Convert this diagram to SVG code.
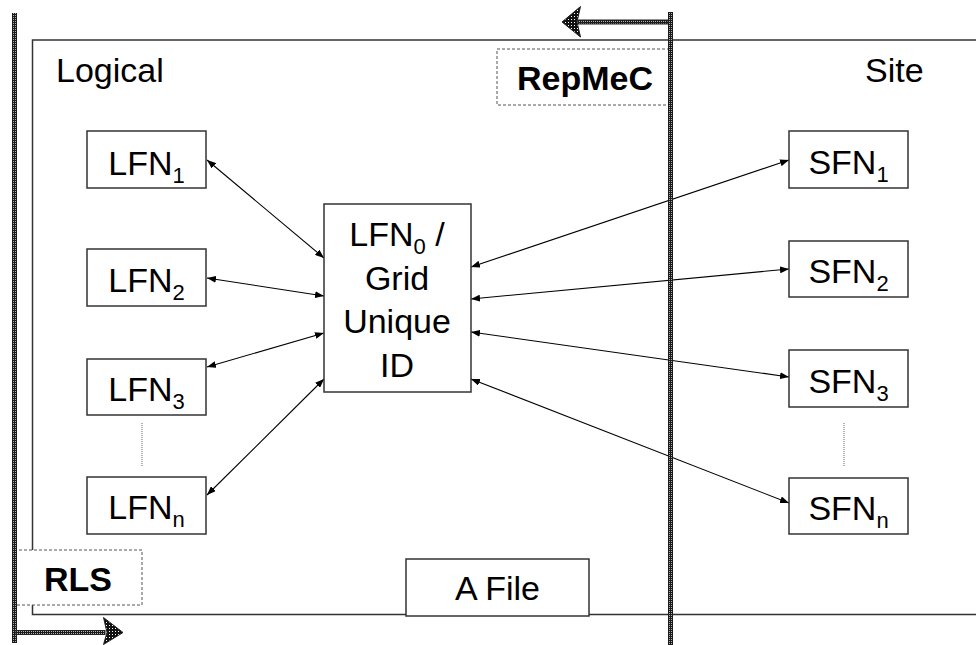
<svg xmlns="http://www.w3.org/2000/svg" width="976" height="645" viewBox="0 0 976 645">
<defs>
<pattern id="tex" width="2" height="2" patternUnits="userSpaceOnUse">
<rect width="2" height="2" fill="#1a1a1a"/>
<rect x="1" y="1" width="1" height="1" fill="#b0b0b0"/>
</pattern>
<pattern id="chk" width="3" height="3" patternUnits="userSpaceOnUse">
<rect width="3" height="3" fill="#111"/>
<rect x="1" y="1" width="1" height="1" fill="#fff"/>
</pattern>
<marker id="ah" viewBox="0 0 9 7" refX="9" refY="3.5" markerWidth="9" markerHeight="7" markerUnits="userSpaceOnUse" orient="auto-start-reverse">
<path d="M0,0 L9,3.5 L0,7 z" fill="#000"/>
</marker>
</defs>
<style>
text{font-family:"Liberation Sans",Arial,sans-serif;font-size:34px;fill:#000}
.b{font-weight:bold}
.sub{font-size:22px}
.box{fill:#fff;stroke:#333;stroke-width:1.5}
.dash{fill:#fff;stroke:#555;stroke-width:1;stroke-dasharray:3 2}
.conn{stroke:#000;stroke-width:1.1;fill:none;marker-start:url(#ah);marker-end:url(#ah)}
.dot{stroke:#999;stroke-width:1.5;stroke-dasharray:1 1}
.bar{fill:url(#tex)}
.shaft{fill:url(#tex);stroke:#222;stroke-width:1}
.head{fill:url(#chk);stroke:#222;stroke-width:1}
</style>
<rect width="976" height="645" fill="#fff"/>
<path id="frame" d="M976,40 H32.5 V614.5 H976" fill="none" stroke="#333" stroke-width="1.5"/>
<text x="56" y="82">Logical</text>
<text x="865" y="82">Site</text>
<g id="connectors">
<line class="conn" x1="207" y1="160" x2="324" y2="258"/>
<line class="conn" x1="207" y1="278" x2="324" y2="296"/>
<line class="conn" x1="207" y1="367" x2="324" y2="333"/>
<line class="conn" x1="207" y1="495" x2="324" y2="379"/>
<line class="conn" x1="471" y1="267" x2="789" y2="160"/>
<line class="conn" x1="471" y1="299" x2="789" y2="269"/>
<line class="conn" x1="471" y1="332" x2="789" y2="377"/>
<line class="conn" x1="471" y1="379" x2="789" y2="503"/>
</g>
<g id="lfn1"><rect class="box" x="87" y="131" width="119" height="57"/><text x="146.5" y="175" text-anchor="middle">LFN<tspan class="sub" dy="8">1</tspan></text></g>
<g id="lfn2"><rect class="box" x="87" y="249" width="119" height="57"/><text x="146.5" y="292" text-anchor="middle">LFN<tspan class="sub" dy="8">2</tspan></text></g>
<g id="lfn3"><rect class="box" x="87" y="359" width="119" height="56"/><text x="146.5" y="401" text-anchor="middle">LFN<tspan class="sub" dy="8">3</tspan></text></g>
<line class="dot" x1="142" y1="423" x2="142" y2="467"/>
<g id="lfnn"><rect class="box" x="87" y="477" width="119" height="57"/><text x="146.5" y="519" text-anchor="middle">LFN<tspan class="sub" dy="8">n</tspan></text></g>
<g id="center"><rect class="box" x="324" y="204" width="147" height="188"/>
<text x="397" y="246" text-anchor="middle">LFN<tspan class="sub" dy="8">0</tspan><tspan dy="-8"> /</tspan></text>
<text x="397" y="290" text-anchor="middle">Grid</text>
<text x="397" y="333" text-anchor="middle">Unique</text>
<text x="397" y="377" text-anchor="middle">ID</text></g>
<g id="sfn1"><rect class="box" x="789" y="131" width="119" height="57"/><text x="848.5" y="174" text-anchor="middle">SFN<tspan class="sub" dy="8">1</tspan></text></g>
<g id="sfn2"><rect class="box" x="789" y="241" width="119" height="56"/><text x="848.5" y="283" text-anchor="middle">SFN<tspan class="sub" dy="8">2</tspan></text></g>
<g id="sfn3"><rect class="box" x="789" y="350" width="119" height="57"/><text x="848.5" y="393" text-anchor="middle">SFN<tspan class="sub" dy="8">3</tspan></text></g>
<line class="dot" x1="844" y1="423" x2="844" y2="467"/>
<g id="sfnn"><rect class="box" x="789" y="478" width="119" height="56"/><text x="848.5" y="520" text-anchor="middle">SFN<tspan class="sub" dy="8">n</tspan></text></g>
<g id="afile"><rect class="box" x="406" y="559" width="183" height="57"/><text x="497.5" y="600" text-anchor="middle">A File</text></g>
<g id="rls"><rect class="dash" x="14" y="550" width="128" height="55"/><text class="b" x="78" y="591" text-anchor="middle">RLS</text></g>
<g id="repmec"><rect class="dash" x="497" y="49" width="174" height="56"/><text class="b" x="585" y="90" text-anchor="middle">RepMeC</text></g>
<g id="rls-bar">
<rect class="bar" x="12" y="13" width="5" height="630"/>
<rect class="shaft" x="16" y="630.5" width="89" height="4"/>
<path class="head" d="M103.5,617.5 L123,632.5 L103.5,644.5 L107,632.5 z"/>
</g>
<g id="repmec-bar">
<rect class="bar" x="668" y="12" width="5" height="633"/>
<rect class="shaft" x="578" y="20" width="90" height="4"/>
<path class="head" d="M580.5,6.5 L562,22 L580.5,37 L577,22 z"/>
</g>
</svg>
